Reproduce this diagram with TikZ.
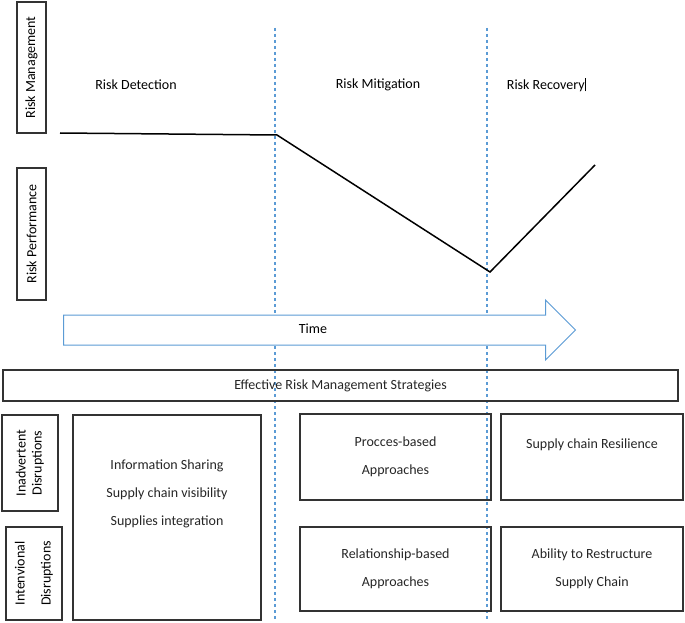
\documentclass[tikz,border=0pt]{standalone}
\usepackage{fontspec}
\setmainfont{Carlito}
\usetikzlibrary{shapes.arrows}
\definecolor{phaseblue}{RGB}{91,155,213}

\begin{document}
\begin{tikzpicture}[
    x = 1pt, y = -1pt,
    font = \fontsize{14}{16}\selectfont,
    box/.style = {draw, line width = 1.2pt, black!80, text = black!85, inner sep = 0pt},
    phase/.style = {dashed, line width = 1.2pt, phaseblue}
    ]
    \useasboundingbox (0, 0) rectangle (685, 623);

    % left labels
    \node at (31.5, 67.5) [box, minimum width = 29pt, minimum height = 131pt, name = RM] {};
    \node at (RM.center) [rotate = 90] {Risk Management};
    \node at (31.5, 234) [box, minimum width = 29pt, minimum height = 132pt, name = RP] {};
    \node at (RP.center) [rotate = 90] {Risk Performance};

    % phases
    \coordinate (m1) at (275, 28);
    \coordinate (m2) at (275, 620);
    \coordinate (r1) at (487, 28);
    \coordinate (r2) at (487, 620);
    \draw [phase] (m1) -- (m2);
    \draw [phase] (r1) -- (r2);
    \node at (136, 85) [name = D] {Risk Detection};
    \node at (378, 85) [name = Mi] {Risk Mitigation};
    \node at (546, 85) [name = Re] {Risk Recovery\rule[-2pt]{0.5pt}{13pt}};

    % performance curve
    \coordinate (p0) at (60, 133);
    \coordinate (p1) at (277, 135);
    \coordinate (p2) at (490, 272);
    \coordinate (p3) at (595, 165);
    \draw [line width = 1.5pt] (p0) -- (p1) -- (p2) -- (p3);

    % time arrow
    \node at (312, 330) [single arrow, draw = phaseblue, line width = 1pt, fill = white,
      minimum width = 60pt, minimum height = 512pt, single arrow head extend = 15pt,
      single arrow tip angle = 90, inner xsep = 0pt, inner ysep = 14.5pt, name = T] {};
    \node at (313, 329) [name = Tl] {Time};

    % strategies
    \node at (340.5, 385.5) [box, minimum width = 675pt, minimum height = 31pt, name = E]
      {Effective Risk Management Strategies};
    \node at (30, 463) [box, minimum width = 56pt, minimum height = 96pt, name = In] {};
    \node at (In.center) [rotate = 90, align = center] {Inadvertent\\Disruptions};
    \node at (34, 573.5) [box, minimum width = 56pt, minimum height = 93pt, name = Iv] {};
    \node at (Iv.center) [rotate = 90, align = center] {Intenvional\\[10pt]Disruptions};
    \node at (167, 517.5) [box, minimum width = 188pt, minimum height = 205pt,
      align = center, name = IS]
      {Information Sharing\\[12pt]Supply chain visibility\\[12pt]Supplies integration\\[34pt]};
    \node at (395.5, 457) [box, minimum width = 191pt, minimum height = 86pt,
      align = center, name = PB] {Procces-based\\[12pt]Approaches};
    \node at (395.5, 569) [box, minimum width = 191pt, minimum height = 84pt,
      align = center, name = RB] {Relationship-based\\[12pt]Approaches};
    \node at (592, 457) [box, minimum width = 182pt, minimum height = 86pt,
      align = center, name = SR] {Supply chain Resilience\\[10pt]};
    \node at (592, 569) [box, minimum width = 182pt, minimum height = 84pt,
      align = center, name = AR] {Ability to Restructure\\[12pt]Supply Chain};
\end{tikzpicture}
\end{document}
